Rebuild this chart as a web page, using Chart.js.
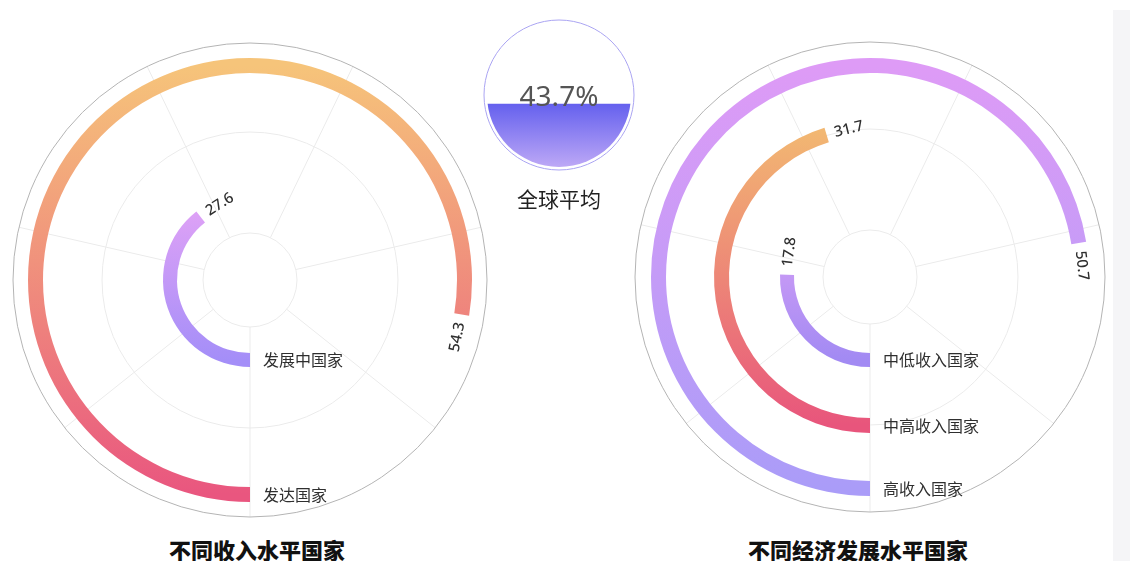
<!DOCTYPE html>
<html lang="zh">
<head>
<meta charset="utf-8">
<script src="https://cdn.jsdelivr.net/npm/chart.js@4.4.1/dist/chart.umd.min.js"></script>
<style>
  html, body { margin: 0; padding: 0; background: #fff; }
  body { width: 1130px; height: 561px; position: relative; overflow: hidden; font-family: "Noto Sans CJK SC", "Noto Sans", sans-serif; }
  .box { position: absolute; }
  .title { position: absolute; font-size: 22px; line-height: 22px; font-weight: 900; color: #111; white-space: nowrap; transform: translateX(-50%); }
  .strip { position: absolute; right: 0; top: 10px; bottom: 0; width: 17px; background: #f5f5f7; }
</style>
</head>
<body>
<div class="strip"></div>
<div class="box" style="left:10px;top:40px"><canvas id="incomeChart" width="480" height="480"></canvas></div>
<div class="box" style="left:479px;top:15px"><canvas id="globalChart" width="160" height="160"></canvas></div>
<div class="box" style="left:630px;top:37px"><canvas id="economyChart" width="480" height="480"></canvas></div>
<div class="title" style="left:257px;top:538px">不同收入水平国家</div>
<div class="title" style="left:858px;top:538px">不同经济发展水平国家</div>
<div class="title" style="left:559px;top:187px;font-weight:normal;font-size:21px;color:#222">全球平均</div>

<script>
// Дані
const MAX_VALUE = 70;
const incomeGroups = ['发达国家', '发展中国家'];
const incomeValues = [54.3, 27.6];
const economyGroups = ['高收入国家', '中高收入国家', '中低收入国家'];
const economyValues = [50.7, 31.7, 17.8];
const globalLabel = '全球平均';
const globalValue = 43.7;

// Кольори градієнтів (верх -> низ), зовнішнє кільце першим
const incomeColors = [['#F6C47A', '#E9567F'], ['#E2A3F6', '#A48EF8']];
const economyColors = [['#DE9BF6', '#AA9CF8'], ['#F2B872', '#E8557C'], ['#E4A6F7', '#A28AF3']];

// Геометрія кілець (px): товщина смуг, проміжки, отвір
const incomeRings = { bars: [15, 14], gaps: [120], hole: 73, pad: 18, outline: 237 };
const economyRings = { bars: [15, 15, 14], gaps: [48, 51], hole: 76, pad: 21, outline: 235 };
const gridRadii = [47, 148];

function ringGradient(colors) {
    return function (ctx) {
        if (ctx.dataIndex !== 0) return 'rgba(0,0,0,0)';
        const chart = ctx.chart;
        const area = chart.chartArea;
        const ctrl = chart.getDatasetMeta(ctx.datasetIndex).controller;
        if (!area || !ctrl.outerRadius) return colors[0];
        const cy = (area.top + area.bottom) / 2;
        const r = (ctrl.outerRadius + ctrl.innerRadius) / 2;
        const g = chart.ctx.createLinearGradient(0, cy - r, 0, cy + r);
        g.addColorStop(0, colors[0]);
        g.addColorStop(1, colors[1]);
        return g;
    };
}

function buildDatasets(groups, values, colors, rings) {
    const datasets = [];
    groups.forEach(function (name, i) {
        datasets.push({
            label: name,
            data: [values[i], MAX_VALUE - values[i]],
            backgroundColor: ringGradient(colors[i]),
            weight: rings.bars[i],
            borderWidth: 0, hoverBorderWidth: 0, hoverOffset: 0
        });
        if (i < groups.length - 1) {
            datasets.push({ label: '', data: [], weight: rings.gaps[i], borderWidth: 0, hoverOffset: 0 });
        }
    });
    return datasets;
}

// Сітка: кола та 7 променів (кожні 10 по кутовій осі)
const polarGrid = {
    id: 'polarGrid',
    beforeDatasetsDraw(chart, args, opts) {
        const { ctx, chartArea: a } = chart;
        const cx = (a.left + a.right) / 2, cy = (a.top + a.bottom) / 2;
        ctx.save();
        ctx.lineWidth = 1;
        ctx.strokeStyle = '#ebebeb';
        gridRadii.forEach(function (r) {
            ctx.beginPath(); ctx.arc(cx, cy, r, 0, Math.PI * 2); ctx.stroke();
        });
        for (let v = 0; v < MAX_VALUE; v += 10) {
            const ang = Math.PI / 2 + v / MAX_VALUE * Math.PI * 2;
            ctx.beginPath();
            ctx.moveTo(cx + gridRadii[0] * Math.cos(ang), cy + gridRadii[0] * Math.sin(ang));
            ctx.lineTo(cx + opts.outline * Math.cos(ang), cy + opts.outline * Math.sin(ang));
            ctx.stroke();
        }
        ctx.strokeStyle = '#b4b4b4';
        ctx.beginPath(); ctx.arc(cx, cy, opts.outline, 0, Math.PI * 2); ctx.stroke();
        ctx.restore();
    }
};

// Підписи: назва на початку смуги, значення після її кінця
const ringLabels = {
    id: 'ringLabels',
    afterDatasetsDraw(chart) {
        const c = chart.ctx;
        chart.data.datasets.forEach(function (ds, i) {
            if (!ds.data.length) return;
            const arc = chart.getDatasetMeta(i).data[0];
            const r = (arc.innerRadius + arc.outerRadius) / 2;
            c.save();
            c.fillStyle = '#2f2f2f';
            c.textBaseline = 'middle';
            c.textAlign = 'left';
            c.font = '16px "Noto Sans CJK SC"';
            c.fillText(ds.label, arc.x + 13, arc.y + r);

            const a = arc.endAngle + 8 / r;
            let rot = a + Math.PI / 2;
            rot = Math.atan2(Math.sin(rot), Math.cos(rot));
            let align = 'left';
            if (rot > Math.PI / 2 || rot <= -Math.PI / 2) { rot += Math.PI; align = 'right'; }
            c.translate(arc.x + r * Math.cos(a), arc.y + r * Math.sin(a));
            c.rotate(rot);
            c.textAlign = align;
            c.font = '500 15px "Noto Sans", "Noto Sans CJK SC"';
            c.fillText(ds.data[0].toFixed(1), 0, 0);
            c.restore();
        });
    }
};

function radialBars(id, groups, values, colors, rings) {
    return new Chart(document.getElementById(id), {
        type: 'doughnut',
        data: { labels: ['value', 'rest'], datasets: buildDatasets(groups, values, colors, rings) },
        options: {
            responsive: false,
            animation: false,
            rotation: 180,
            circumference: 360,
            cutout: rings.hole,
            layout: { padding: rings.pad },
            plugins: {
                legend: { display: false },
                tooltip: { enabled: false },
                polarGrid: { outline: rings.outline }
            }
        },
        plugins: [polarGrid, ringLabels]
    });
}

// Рідинний індикатор для середнього значення
const liquid = {
    id: 'liquid',
    beforeDatasetsDraw(chart) {
        const { ctx, chartArea: a } = chart;
        ctx.save();
        ctx.beginPath();
        ctx.arc((a.left + a.right) / 2, (a.top + a.bottom) / 2, a.width / 2, 0, Math.PI * 2);
        ctx.clip();
    },
    afterDatasetsDraw(chart) {
        const { ctx, chartArea: a } = chart;
        ctx.restore();
        const cx = (a.left + a.right) / 2, cy = (a.top + a.bottom) / 2;
        ctx.save();
        ctx.strokeStyle = '#aaa4f2';
        ctx.lineWidth = 1;
        ctx.beginPath(); ctx.arc(cx, cy, a.width / 2 + 3, 0, Math.PI * 2); ctx.stroke();
        ctx.fillStyle = '#555';
        ctx.font = '28px "Noto Sans", sans-serif';
        ctx.textAlign = 'center';
        ctx.textBaseline = 'middle';
        ctx.fillText(chart.data.datasets[0].data[0].toFixed(1) + '%', cx, cy + 3);
        ctx.restore();
    }
};

new Chart(document.getElementById('globalChart'), {
    type: 'bar',
    data: {
        labels: [globalLabel],
        datasets: [{
            data: [globalValue],
            borderWidth: 0,
            barPercentage: 1,
            categoryPercentage: 1,
            backgroundColor: function (ctx) {
                const chart = ctx.chart;
                const y = chart.scales.y;
                if (!chart.chartArea || !y) return '#7f74f0';
                const g = chart.ctx.createLinearGradient(0, y.getPixelForValue(globalValue), 0, chart.chartArea.bottom);
                g.addColorStop(0, '#6561EE');
                g.addColorStop(1, '#BDA8F6');
                return g;
            }
        }]
    },
    options: {
        responsive: false,
        animation: false,
        layout: { padding: 8 },
        scales: {
            x: { display: false },
            y: { display: false, min: 0, max: 100 }
        },
        plugins: { legend: { display: false }, tooltip: { enabled: false } }
    },
    plugins: [liquid]
});

radialBars('incomeChart', incomeGroups, incomeValues, incomeColors, incomeRings);
radialBars('economyChart', economyGroups, economyValues, economyColors, economyRings);
</script>
</body>
</html>
